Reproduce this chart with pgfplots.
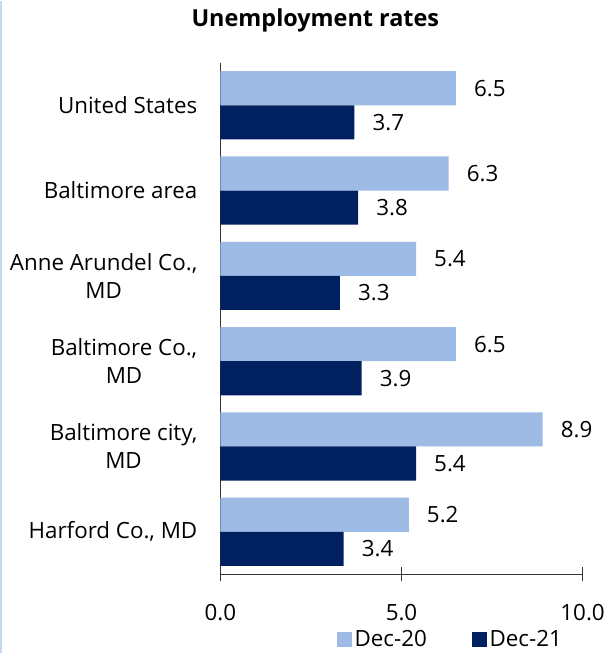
\documentclass[border=0pt]{standalone}
\usepackage{pgfplots}
\pgfplotsset{compat=1.18}
\usepackage{fontspec}
\setmainfont{Open Sans}
\definecolor{lightbar}{HTML}{9DBBE5}
\definecolor{darkbar}{HTML}{002060}
\definecolor{frameblue}{HTML}{C5D9F1}
\newcommand{\lblfont}{\fontsize{16.8}{21}\selectfont}
\begin{document}
\begin{tikzpicture}
\begin{axis}[
  scale only axis, width=272.25pt, height=384.75pt,
  xmin=0, xmax=10, ymin=-0.5, ymax=5.5, y dir=reverse,
  xbar, bar width=0.4,
  axis x line*=bottom, axis y line*=left,
  axis line style={black!80, line width=1pt},
  xtick={0,5,10}, tick align=center, major tick length=10.5pt,
  xtick style={black!80, line width=0.8pt},
  ytick={0,1,2,3,4,5}, ytick style={draw=none},
  yticklabels={United States, Baltimore area, {Anne Arundel Co.,\\MD}, {Baltimore Co.,\\MD}, {Baltimore city,\\MD}, {Harford Co., MD}},
  yticklabel style={align=center, font=\lblfont, inner sep=0pt, xshift=-12pt},
  xticklabel style={font=\lblfont, yshift=-14pt, /pgf/number format/fixed, /pgf/number format/fixed zerofill, /pgf/number format/precision=1, /pgf/number format/assume math mode=true},
  nodes near coords,
  nodes near coords style={font=\lblfont, anchor=west, inner sep=0pt, xshift=13.5pt, /pgf/number format/fixed, /pgf/number format/fixed zerofill, /pgf/number format/precision=1, /pgf/number format/assume math mode=true},
  title={\bfseries Unemployment rates},
  title style={font=\fontsize{17.6}{21}\selectfont, at={(0.262,1.068)}, anchor=base, yshift=-5pt},
  legend columns=2,
  legend style={draw=none, font=\lblfont, at={(0.636,-0.127)}, anchor=center, /tikz/every even column/.append style={column sep=32pt}},
  legend image code/.code={\fill[#1] (0pt,-5.6pt) rectangle (11.2pt,5.6pt);},
  clip=false,
]
\addplot[fill=lightbar, draw=none, bar shift=-0.2] coordinates {(6.5,0) (6.3,1) (5.4,2) (6.5,3) (8.9,4) (5.2,5)};
\addplot[fill=darkbar, draw=none, bar shift=0.2] coordinates {(3.7,0) (3.8,1) (3.3,2) (3.9,3) (5.4,4) (3.4,5)};
\legend{Dec-20, Dec-21}
\end{axis}
\pgfresetboundingbox
\path (-165.75pt,-59.25pt) rectangle (291pt,431.25pt);
\draw[frameblue, line width=1.2pt] (-165.15pt,-59.25pt) -- (-165.15pt,431.25pt);
\end{tikzpicture}
\end{document}
